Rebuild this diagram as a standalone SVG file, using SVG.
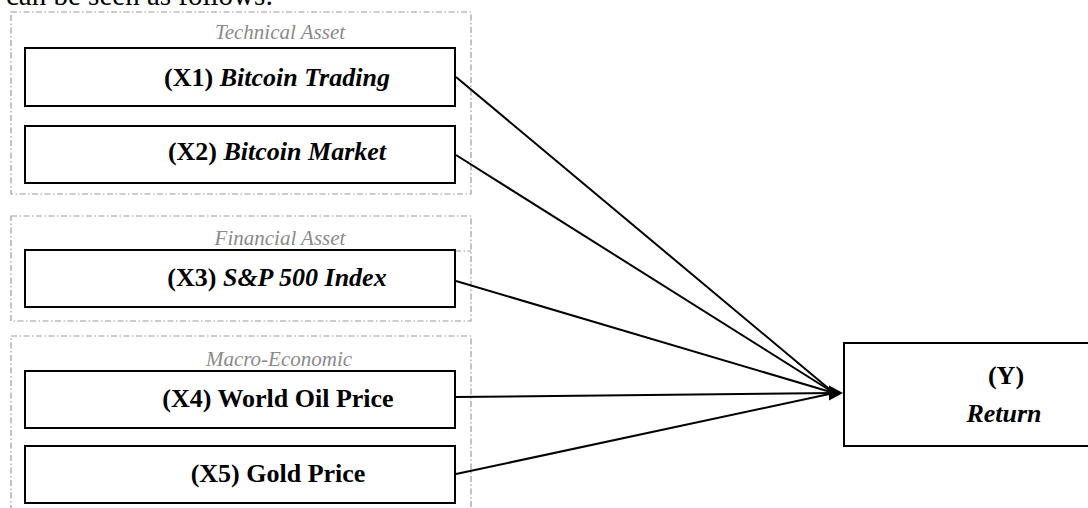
<svg xmlns="http://www.w3.org/2000/svg" width="1088" height="508" viewBox="0 0 1088 508">
<style>
.grp{fill:none;stroke:#9a9a9a;stroke-width:1.2;stroke-dasharray:6 2.5 1.5 2.5}
.box{fill:#fff;stroke:#000;stroke-width:2}
.lbl{font-family:"Liberation Serif",serif;font-size:26px;font-weight:bold;fill:#000;text-anchor:middle}
.it{font-style:italic}
.cap{font-family:"Liberation Serif",serif;font-size:21px;font-style:italic;fill:#8a8a8a;text-anchor:middle}
.edge{stroke:#000;stroke-width:2;fill:none}
</style>
<rect width="1088" height="508" fill="#fff"/>
<text x="6" y="4.5" font-family="Liberation Serif,serif" font-size="29" fill="#000">can be seen as follows:</text>
<g id="group-technical">
<rect class="grp" x="11" y="12" width="460" height="182"/>
<text class="cap" x="280" y="39">Technical Asset</text>
</g>
<g id="group-financial">
<rect class="grp" x="11" y="216" width="460" height="105"/>
<line class="grp" x1="455" y1="251" x2="471" y2="251"/>
<text class="cap" x="280" y="245">Financial Asset</text>
</g>
<g id="group-macro">
<rect class="grp" x="11" y="336" width="460" height="190"/>
<text class="cap" x="279" y="366">Macro-Economic</text>
</g>
<g id="connectors">
<line class="edge" x1="456" y1="77" x2="834" y2="393"/>
<line class="edge" x1="456" y1="155" x2="834" y2="393"/>
<line class="edge" x1="456" y1="281" x2="834" y2="393"/>
<line class="edge" x1="456" y1="397" x2="834" y2="393"/>
<line class="edge" x1="456" y1="474" x2="834" y2="393"/>
<path d="M829,385.5 L843,393 L829,400.5 Z" fill="#000"/>
</g>
<g id="x1">
<rect class="box" x="25" y="48" width="430" height="58"/>
<text class="lbl" x="277" y="86">(X1) <tspan class="it">Bitcoin Trading</tspan></text>
</g>
<g id="x2">
<rect class="box" x="25" y="126" width="430" height="57"/>
<text class="lbl" x="277" y="160">(X2) <tspan class="it">Bitcoin Market</tspan></text>
</g>
<g id="x3">
<rect class="box" x="25" y="250" width="430" height="57"/>
<text class="lbl" x="277" y="286">(X3) <tspan class="it">S&amp;P 500 Index</tspan></text>
</g>
<g id="x4">
<rect class="box" x="25" y="371" width="430" height="57"/>
<text class="lbl" x="278" y="407">(X4) World Oil Price</text>
</g>
<g id="x5">
<rect class="box" x="25" y="446" width="430" height="57"/>
<text class="lbl" x="278" y="482">(X5) Gold Price</text>
</g>
<g id="y">
<rect class="box" x="844" y="343" width="260" height="103"/>
<text class="lbl" x="1006" y="384">(Y)</text>
<text class="lbl it" x="1004" y="422">Return</text>
</g>
</svg>
